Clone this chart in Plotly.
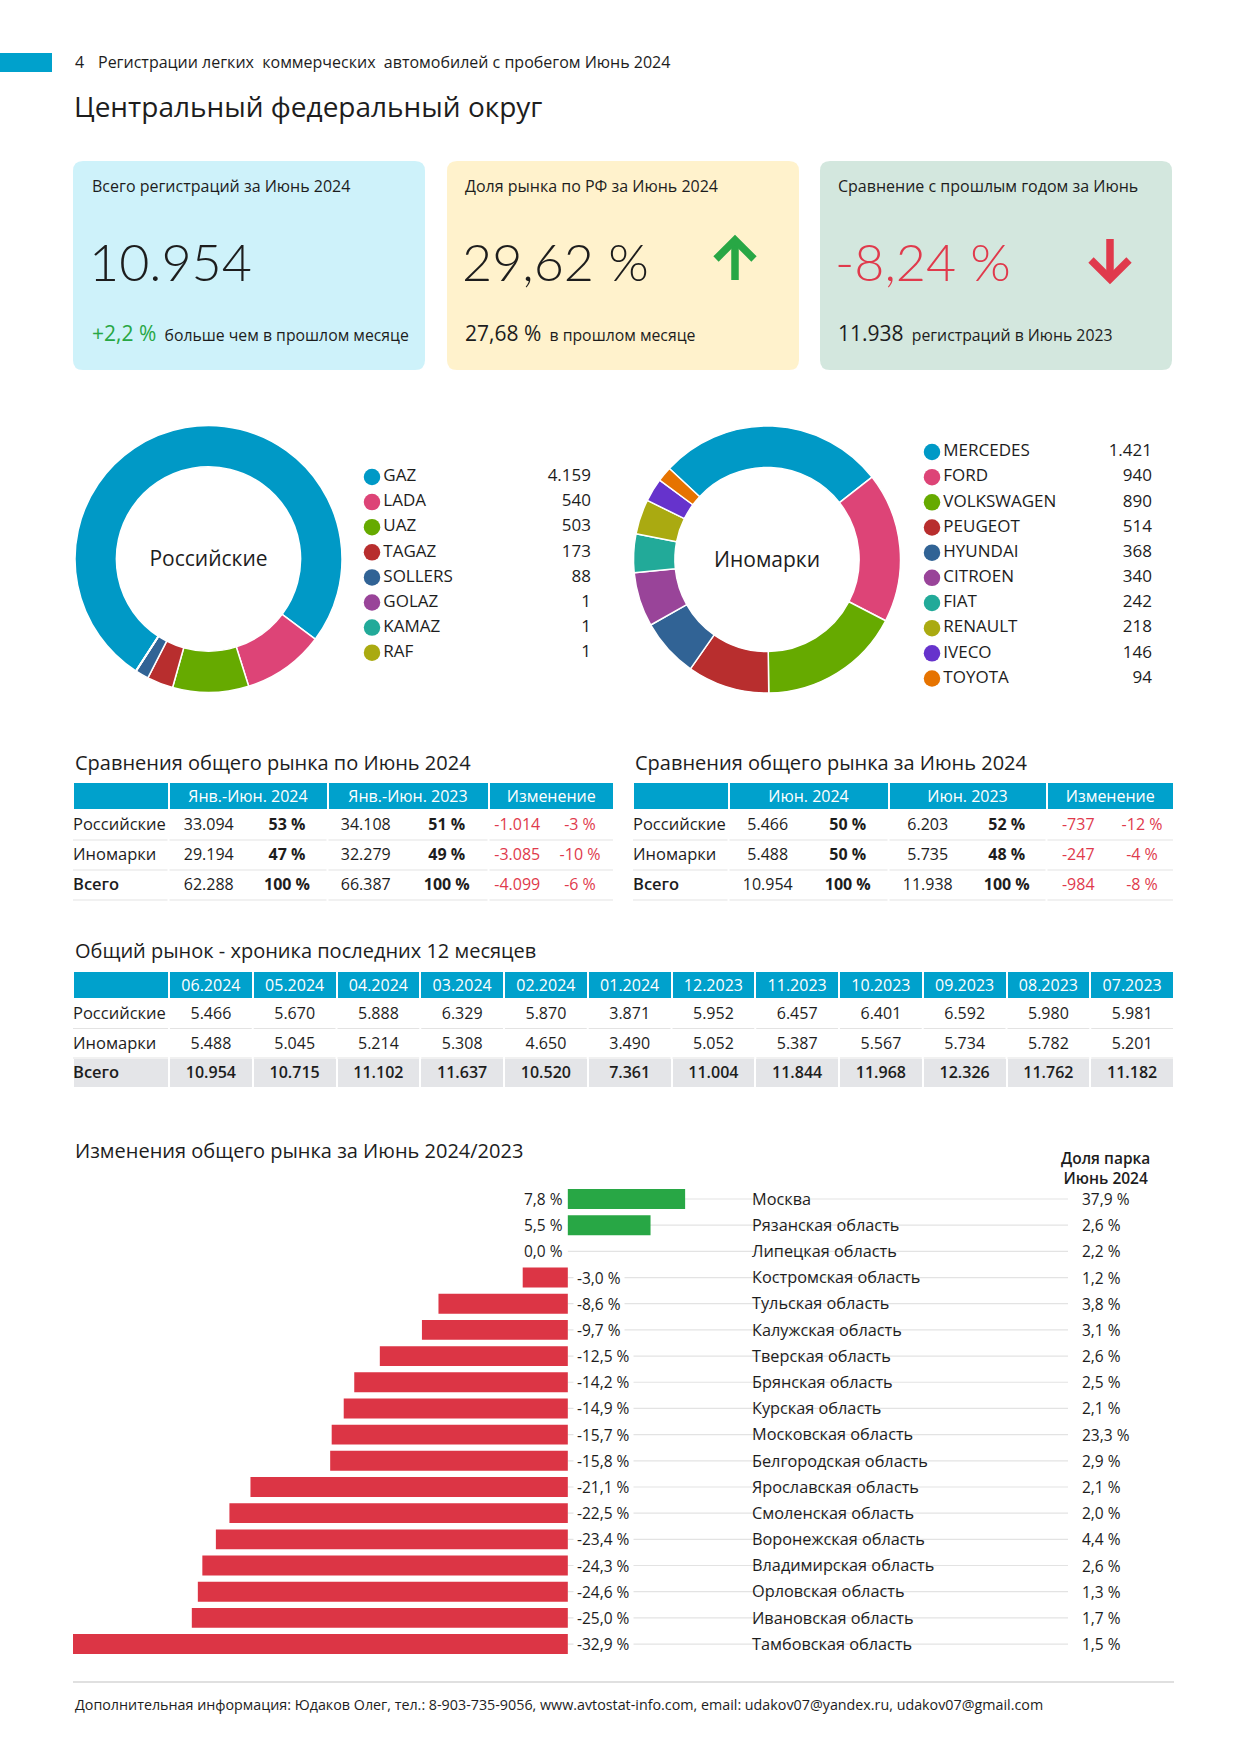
import plotly.graph_objects as go

# ---------------- data ----------------
kpi_total = 10954
kpi_total_mom = 2.2
kpi_share = 29.62
kpi_share_prev = 27.68
kpi_yoy = -8.24
kpi_total_prev_year = 11938

ru_brands = ["GAZ", "LADA", "UAZ", "TAGAZ", "SOLLERS", "GOLAZ", "KAMAZ", "RAF"]
ru_values = [4159, 540, 503, 173, 88, 1, 1, 1]
fo_brands = ["MERCEDES", "FORD", "VOLKSWAGEN", "PEUGEOT", "HYUNDAI", "CITROEN",
             "FIAT", "RENAULT", "IVECO", "TOYOTA"]
fo_values = [1421, 940, 890, 514, 368, 340, 242, 218, 146, 94]

cmp_rows = ["Российские", "Иномарки", "Всего"]
ytd_headers = ["Янв.-Июн. 2024", "Янв.-Июн. 2023", "Изменение"]
ytd_2024 = [33094, 29194, 62288]
ytd_2024_share = [53, 47, 100]
ytd_2023 = [34108, 32279, 66387]
ytd_2023_share = [51, 49, 100]
ytd_diff = [-1014, -3085, -4099]
ytd_diff_pct = [-3, -10, -6]

jun_headers = ["Июн. 2024", "Июн. 2023", "Изменение"]
jun_2024 = [5466, 5488, 10954]
jun_2024_share = [50, 50, 100]
jun_2023 = [6203, 5735, 11938]
jun_2023_share = [52, 48, 100]
jun_diff = [-737, -247, -984]
jun_diff_pct = [-12, -4, -8]

months = ["06.2024", "05.2024", "04.2024", "03.2024", "02.2024", "01.2024",
          "12.2023", "11.2023", "10.2023", "09.2023", "08.2023", "07.2023"]
hist_ru = [5466, 5670, 5888, 6329, 5870, 3871, 5952, 6457, 6401, 6592, 5980, 5981]
hist_fo = [5488, 5045, 5214, 5308, 4650, 3490, 5052, 5387, 5567, 5734, 5782, 5201]
hist_total = [10954, 10715, 11102, 11637, 10520, 7361, 11004, 11844, 11968, 12326, 11762, 11182]

regions = ["Москва", "Рязанская область", "Липецкая область", "Костромская область",
           "Тульская область", "Калужская область", "Тверская область", "Брянская область",
           "Курская область", "Московская область", "Белгородская область",
           "Ярославская область", "Смоленская область", "Воронежская область",
           "Владимирская область", "Орловская область", "Ивановская область",
           "Тамбовская область"]
region_change = [7.8, 5.5, 0.0, -3.0, -8.6, -9.7, -12.5, -14.2, -14.9, -15.7, -15.8,
                 -21.1, -22.5, -23.4, -24.3, -24.6, -25.0, -32.9]
region_share = [37.9, 2.6, 2.2, 1.2, 3.8, 3.1, 2.6, 2.5, 2.1, 23.3, 2.9, 2.1, 2.0,
                4.4, 2.6, 1.3, 1.7, 1.5]

# ---------------- style ----------------
W, H = 1240, 1755
FONT = "Open Sans, Noto Sans, DejaVu Sans, sans-serif"
LIGHT = "Lato, Roboto, Open Sans, sans-serif"
TXT = "#1d1d1d"
BLUE = "#00a1cc"
GREEN = "#28a745"
RED = "#e03a4c"
BAR_RED = "#dc3545"
GRAY_ROW = "#e4e5e8"
SEP = "#e3e3e3"
TRANSP = "rgba(0,0,0,0)"
PALETTE = ["#0099c6", "#dd4477", "#66aa00", "#b82e2e", "#316395", "#994499",
           "#22aa99", "#aaaa11", "#6633cc", "#e67300"]


def X(px):
    return px / W


def Y(py):
    return 1 - py / H


def fint(n):
    s = f"{abs(n):,}".replace(",", ".")
    return ("-" if n < 0 else "") + s


def fpct(v, d=0):
    return f"{v:.{d}f}".replace(".", ",") + " %"


shapes = []
ann = []


def text(x, y, s, size, color=TXT, xanchor="left", yanchor="middle", family=FONT, weight=None, **kw):
    f = dict(size=size, color=color, family=family)
    if weight:
        f["weight"] = weight
    ann.append(dict(x=X(x), y=Y(y), xref="paper", yref="paper", text=s, showarrow=False,
                    xanchor=xanchor, yanchor=yanchor, font=f, **kw))


def rect(x0, y0, x1, y1, color, layer="below"):
    shapes.append(dict(type="rect", xref="paper", yref="paper", x0=X(x0), x1=X(x1),
                       y0=Y(y1), y1=Y(y0), fillcolor=color, line=dict(width=0), layer=layer))


def hline(x0, x1, y, color=SEP, width=1.2):
    shapes.append(dict(type="line", xref="paper", yref="paper", x0=X(x0), x1=X(x1),
                       y0=Y(y), y1=Y(y), line=dict(color=color, width=width), layer="above"))


def P(x, y):
    return f"{X(x):.6f} {Y(y):.6f}"


def rounded(x0, y0, x1, y1, r, color):
    path = (f"M{P(x0 + r, y0)} L{P(x1 - r, y0)} Q{P(x1, y0)} {P(x1, y0 + r)} "
            f"L{P(x1, y1 - r)} Q{P(x1, y1)} {P(x1 - r, y1)} L{P(x0 + r, y1)} "
            f"Q{P(x0, y1)} {P(x0, y1 - r)} L{P(x0, y0 + r)} Q{P(x0, y0)} {P(x0 + r, y0)} Z")
    shapes.append(dict(type="path", xref="paper", yref="paper", path=path,
                       fillcolor=color, line=dict(width=0), layer="below"))


def stroke(points, color, width):
    path = "M" + " L".join(P(x, y) for x, y in points)
    shapes.append(dict(type="path", xref="paper", yref="paper", path=path,
                       line=dict(color=color, width=width), layer="above"))


fig = go.Figure()

# ---------------- header ----------------
rect(0, 53, 52, 72, BLUE)
text(73, 62, "4", 16)
text(96, 62, "Регистрации легких\u00a0 коммерческих\u00a0 автомобилей с пробегом Июнь 2024", 16)
text(72, 106, "Центральный федеральный округ", 28)

# ---------------- KPI cards ----------------
cards = [(73, "#cef2fa"), (447, "#fff2cc"), (820, "#d3e7de")]
for cx, col in cards:
    rounded(cx, 161, cx + 352, 370, 10, col)

text(90, 186, "Всего регистраций за Июнь 2024", 16)
text(87, 261, fint(kpi_total), 52, family=LIGHT, weight=300)
text(90, 333, f'<span style="color:{GREEN};font-size:21px">+{fpct(kpi_total_mom, 1)}</span>  больше чем в прошлом месяце', 15.8)

text(463, 186, "Доля рынка по РФ за Июнь 2024", 16)
text(460, 261, fpct(kpi_share, 2), 52, family=LIGHT, weight=300)
text(463, 333, f'<span style="font-size:21px">{fpct(kpi_share_prev, 2)}</span>  в прошлом месяце', 15.8)
stroke([(735, 280), (735, 243)], GREEN, 7.5)
stroke([(716, 259), (735, 240), (754, 259)], GREEN, 7.5)

text(836, 186, "Сравнение с прошлым годом за Июнь", 16)
text(833, 261, fpct(kpi_yoy, 2), 52, color=RED, family=LIGHT, weight=300)
text(836, 333, f'<span style="font-size:21px">{fint(kpi_total_prev_year)}</span>  регистраций в Июнь 2023', 15.8)
stroke([(1110, 239), (1110, 276)], RED, 7.5)
stroke([(1091, 260), (1110, 279), (1129, 260)], RED, 7.5)

# ---------------- donuts ----------------
def donut(vals, labels, colors, cx, cy, d, rot, title):
    fig.add_trace(go.Pie(
        values=vals, labels=labels, sort=False, direction="clockwise", rotation=rot,
        hole=0.69, textinfo="none", hoverinfo="skip", showlegend=False,
        marker=dict(colors=colors, line=dict(color="white", width=1.5)),
        domain=dict(x=[X(cx - d / 2), X(cx + d / 2)], y=[Y(cy + d / 2), Y(cy - d / 2)]),
        title=dict(text=title, position="middle center", font=dict(size=21, color=TXT, family=FONT)),
    ))


donut(ru_values, ru_brands, PALETTE[:len(ru_brands)], 208.5, 559, 267, 213, "Российские")
donut(fo_values, fo_brands, PALETTE[:len(fo_brands)], 767, 559.5, 267, 313, "Иномарки")


def legend(brands, values, colors, ax_id, x_dot, x_val, y_first, step):
    n = len(brands)
    xa, ya = f"x{ax_id}", f"y{ax_id}"
    fig.add_trace(go.Scatter(
        x=[0] * n, y=brands, mode="markers+text", text=brands, textposition="middle right",
        marker=dict(size=16.5, color=colors), textfont=dict(size=17, color=TXT, family=FONT),
        hoverinfo="skip", showlegend=False, xaxis=xa, yaxis=ya, cliponaxis=False))
    fig.add_trace(go.Scatter(
        x=[1] * n, y=brands, mode="text", text=[fint(v) for v in values],
        textposition="middle left", textfont=dict(size=17, color=TXT, family=FONT),
        hoverinfo="skip", showlegend=False, xaxis=xa, yaxis=ya, cliponaxis=False))
    top = y_first - step / 2
    bot = y_first + step * (n - 1) + step / 2
    fig.update_layout(**{
        f"xaxis{ax_id}": dict(domain=[X(x_dot), X(x_val)], range=[0, 1], visible=False,
                              anchor=ya, fixedrange=True),
        f"yaxis{ax_id}": dict(domain=[Y(bot), Y(top)], type="category", categoryorder="array",
                              categoryarray=brands, range=[n - 0.5, -0.5], visible=False,
                              anchor=xa, fixedrange=True),
    })


legend(ru_brands, ru_values, PALETTE[:len(ru_brands)], 2, 372, 591, 477, 25.1)
legend(fo_brands, fo_values, PALETTE[:len(fo_brands)], 3, 932, 1152, 452, 25.17)


def text_table(x0, widths, top, height, cols, head_h, row_h, sizes, colors, weights, aligns):
    """Transparent table used for cell texts (fills are drawn by another table)."""
    fig.add_trace(go.Table(
        domain=dict(x=[X(x0), X(x0 + sum(widths))], y=[Y(top + height), Y(top)]),
        columnwidth=widths,
        header=dict(values=[""] * len(cols), fill_color=TRANSP, height=head_h,
                    line=dict(color=TRANSP, width=0)),
        cells=dict(values=cols, fill_color=TRANSP, height=row_h,
                   line=dict(color=TRANSP, width=0), align=aligns,
                   font=dict(size=sizes, family=FONT, color=colors, weight=weights)),
    ))


LBL = 16.5  # row-label font size in tables

# ---------------- comparison tables ----------------
def cmp_table(x_left, title, headers, v1, s1, v2, s2, d, dp, head_w, body_w):
    top = 782
    text(x_left, 762, title, 20)
    fig.add_trace(go.Table(
        domain=dict(x=[X(x_left), X(x_left + sum(head_w))], y=[Y(top + 60), Y(top)]),
        columnwidth=head_w,
        header=dict(values=[""] + headers, fill_color=BLUE, align="center", height=28,
                    line=dict(color="white", width=2),
                    font=dict(color="white", size=16, family=FONT)),
        cells=dict(values=[[""]] * 4, fill_color=TRANSP, height=20,
                   line=dict(color=TRANSP, width=0)),
    ))
    x0 = x_left - 8
    n = len(cmp_rows)
    plain = [
        cmp_rows[:-1] + [""],
        [fint(v) for v in v1],
        [fpct(v) for v in s1],
        [fint(v) for v in v2],
        [fpct(v) for v in s2],
        [fint(v) for v in d],
        [fpct(v) for v in dp],
    ]
    text_table(x0, body_w, top, 130, plain, 28, 30, [LBL] + [16] * 6,
               [TXT] * 5 + [RED] * 2, [400, 400, 700, 400, 700, 400, 400],
               ["left"] + ["center"] * 6)
    bold = [[""] * (n - 1) + [cmp_rows[-1]]] + [[""] * n] * 6
    text_table(x0, body_w, top, 130, bold, 28, 30, [LBL] + [16] * 6,
               [TXT] * 7, [600] * 7, ["left"] + ["center"] * 6)
    edges = [x_left]
    for w in head_w:
        edges.append(edges[-1] + w)
    for r in range(n):
        y = top + 28 + 30 * (r + 1)
        for i in range(4):
            hline(edges[i] + (1 if i else 0), edges[i + 1] - 1, y)


cmp_table(73, "Сравнения общего рынка по Июнь 2024", ytd_headers, ytd_2024, ytd_2024_share,
          ytd_2023, ytd_2023_share, ytd_diff, ytd_diff_pct,
          [95.5, 159, 161, 125.5], [105, 77.5, 79, 78.5, 83.5, 57.5, 68])
cmp_table(633, "Сравнения общего рынка за Июнь 2024", jun_headers, jun_2024, jun_2024_share,
          jun_2023, jun_2023_share, jun_diff, jun_diff_pct,
          [95.5, 160, 158, 127.5], [103.5, 78.5, 81.5, 78.5, 79.5, 63.5, 64])

# ---------------- 12-month table ----------------
text(73, 951, "Общий рынок - хроника последних 12 месяцев", 20)
m_top = 971
m_w = [96] + [83.75] * len(months)
nm = len(m_w)
fig.add_trace(go.Table(
    domain=dict(x=[X(73), X(73 + sum(m_w))], y=[Y(m_top + 130), Y(m_top)]),
    columnwidth=m_w,
    header=dict(values=[""] + months, fill_color=BLUE, align="center", height=28,
                line=dict(color="white", width=2), font=dict(color="white", size=16, family=FONT)),
    cells=dict(values=[["", "", ""]] * nm, height=29.5,
               fill_color=[["white", "white", GRAY_ROW]] * nm,
               line=dict(color="white", width=2)),
))
t_w = [104] + [83.75] * len(months)
plain = [cmp_rows[:-1] + [""]] + [[fint(a), fint(b), ""] for a, b in zip(hist_ru, hist_fo)]
text_table(65, t_w, m_top, 130, plain, 28, 29.5, [LBL] + [16] * 12, [TXT] * nm, [400] * nm,
           ["left"] + ["center"] * 12)
bold = [["", "", cmp_rows[-1]]] + [["", "", fint(c)] for c in hist_total]
text_table(65, t_w, m_top, 130, bold, 28, 29.5, [LBL] + [16] * 12, [TXT] * nm, [600] * nm,
           ["left"] + ["center"] * 12)
m_edges = [73]
for w in m_w:
    m_edges.append(m_edges[-1] + w)
for r in range(2):
    y = m_top + 28 + 29.5 * (r + 1)
    for i in range(nm):
        hline(m_edges[i] + (1 if i else 0), m_edges[i + 1] - 1, y)

# ---------------- regional bar chart ----------------
text(73, 1150, "Изменения общего рынка за Июнь 2024/2023", 20)
text(1059, 1168, "Доля парка<br>Июнь 2024", 15.5, weight=600)

px_per_pct = 15.04
x_min = min(region_change)
x_max = x_min + (1068 - 73) / px_per_pct
n_reg = len(regions)
row_h = 26.18
y_top = 1199 - row_h / 2
y_bot = y_top + row_h * n_reg

fig.add_trace(go.Bar(
    x=region_change, y=regions, orientation="h", width=0.76,
    marker=dict(color=[GREEN if v > 0 else BAR_RED for v in region_change], line=dict(width=0)),
    hoverinfo="skip", showlegend=False, xaxis="x", yaxis="y",
))
fig.update_layout(
    xaxis=dict(domain=[X(73), X(1068)], range=[x_min, x_max], visible=False, anchor="y",
               fixedrange=True),
    yaxis=dict(domain=[Y(y_bot), Y(y_top)], type="category", categoryorder="array",
               categoryarray=regions, range=[n_reg - 0.5, -0.5], anchor="free",
               position=X(751), side="right", showgrid=False, zeroline=False, showline=False,
               ticks="", tickfont=dict(size=16.3, color=TXT, family=FONT), fixedrange=True),
)
for i, (reg, v, s) in enumerate(zip(regions, region_change, region_share)):
    shapes.append(dict(type="line", xref="x", yref="y", x0=0, x1=x_max, y0=i, y1=i,
                       line=dict(color=SEP, width=1.2), layer="below"))
    if v >= 0:
        ann.append(dict(x=0, y=reg, xref="x", yref="y", text=fpct(v, 1), showarrow=False,
                        xanchor="right", yanchor="middle", xshift=-3,
                        font=dict(size=15.5, color=TXT, family=FONT)))
    else:
        ann.append(dict(x=0, y=reg, xref="x", yref="y", text=fpct(v, 1), showarrow=False,
                        xanchor="left", yanchor="middle", xshift=5, bgcolor="white", borderpad=3,
                        font=dict(size=15.5, color=TXT, family=FONT)))
    ann.append(dict(x=X(1080), y=reg, xref="paper", yref="y", text=fpct(s, 1), showarrow=False,
                    xanchor="left", yanchor="middle", font=dict(size=15.5, color=TXT, family=FONT)))

# ---------------- footer ----------------
hline(73, 1174, 1682, color="#d6d6d6", width=1.5)
text(73, 1704, "Дополнительная информация: Юдаков Олег, тел.: 8-903-735-9056, www.avtostat-info.com, "
               "email: udakov07@yandex.ru, udakov07@gmail.com", 14.3)

fig.update_layout(
    width=W, height=H, autosize=False, margin=dict(l=0, r=0, t=0, b=0),
    paper_bgcolor="white", plot_bgcolor=TRANSP, showlegend=False,
    font=dict(family=FONT, color=TXT), shapes=shapes, annotations=ann,
)
fig.write_html("out.html", config={"displayModeBar": False, "staticPlot": True},
               post_script="document.body.style.margin='0px';")
